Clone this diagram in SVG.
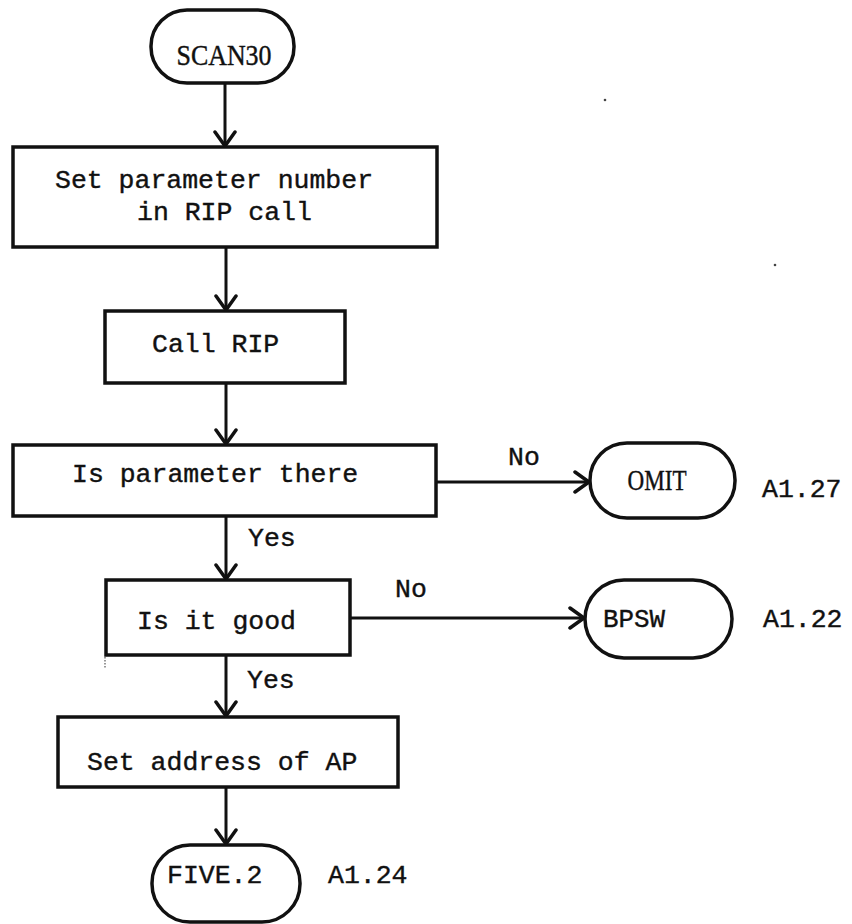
<svg xmlns="http://www.w3.org/2000/svg" width="852" height="924" viewBox="0 0 852 924">
  <defs>
    <marker id="arr" viewBox="-17 -12 19 24" markerWidth="19" markerHeight="24" refX="0" refY="0" orient="auto" markerUnits="userSpaceOnUse">
      <path d="M-14,-10 L0,0 L-14,10" fill="none" stroke="#111" stroke-width="3.5" stroke-linecap="round"/>
    </marker>
    <style>
      .box { fill: #fff; stroke: #111; stroke-width: 3.5; }
      .term { fill: #fff; stroke: #111; stroke-width: 3.5; }
      .edge { fill: none; stroke: #111; stroke-width: 3; marker-end: url(#arr); }
      .tw { font-family: "Liberation Mono", "DejaVu Sans Mono", monospace; font-size: 26.5px; fill: #111; stroke: #111; stroke-width: 0.4; }
      .lt { font-family: "Liberation Serif", "DejaVu Serif", serif; font-size: 29px; fill: #111; stroke: #111; stroke-width: 0.4; }
      .speck { fill: #444; }
    </style>
  </defs>

  <rect width="852" height="924" fill="#fff"/>

  <!-- connectors -->
  <g id="connectors">
    <path class="edge" d="M225,83 L225,146"/>
    <path class="edge" d="M226,247 L226,310"/>
    <path class="edge" d="M226,383 L226,444"/>
    <path class="edge" d="M226,516 L226,579"/>
    <path class="edge" d="M226,655 L226,716"/>
    <path class="edge" d="M226,787 L226,844"/>
    <path class="edge" d="M436,482 L589,482"/>
    <path class="edge" d="M350,618 L584,618"/>
    <text class="tw" x="508" y="465">No</text>
    <text class="tw" x="248" y="546">Yes</text>
    <text class="tw" x="395" y="597">No</text>
    <text class="tw" x="247" y="688">Yes</text>
  </g>

  <!-- start terminal -->
  <g id="scan30">
    <rect class="term" x="151" y="10" width="143" height="73" rx="36" ry="36"/>
    <text class="lt" x="224" y="65" text-anchor="middle" textLength="95" lengthAdjust="spacingAndGlyphs">SCAN30</text>
  </g>

  <g id="set-param">
    <rect class="box" x="13" y="147" width="424" height="100"/>
    <text class="tw" x="55" y="188">Set parameter number</text>
    <text class="tw" x="137" y="220">in RIP call</text>
  </g>

  <g id="call-rip">
    <rect class="box" x="105" y="311" width="240" height="72"/>
    <text class="tw" x="152" y="352">Call RIP</text>
  </g>

  <g id="param-there">
    <rect class="box" x="13" y="445" width="423" height="71"/>
    <text class="tw" x="72" y="482">Is parameter there</text>
  </g>

  <g id="omit">
    <rect class="term" x="590" y="443" width="145" height="75" rx="37" ry="37"/>
    <text class="lt" x="657" y="490" text-anchor="middle" textLength="59" lengthAdjust="spacingAndGlyphs">OMIT</text>
    <text class="tw" x="762" y="497">A1.27</text>
  </g>

  <g id="is-good">
    <rect class="box" x="106" y="580" width="244" height="75"/>
    <text class="tw" x="137" y="629">Is it good</text>
  </g>

  <g id="bpsw">
    <rect class="term" x="585" y="580" width="147" height="78" rx="39" ry="39"/>
    <text class="tw" x="603" y="627" textLength="62" lengthAdjust="spacingAndGlyphs">BPSW</text>
    <text class="tw" x="763" y="627">A1.22</text>
  </g>

  <g id="set-address">
    <rect class="box" x="58" y="717" width="340" height="70"/>
    <text class="tw" x="87" y="770">Set address of AP</text>
  </g>

  <g id="five2">
    <rect class="term" x="152" y="845" width="148" height="77" rx="38" ry="38"/>
    <text class="tw" x="167" y="883">FIVE.2</text>
    <text class="tw" x="328" y="883">A1.24</text>
  </g>

  <!-- stray marks -->
  <circle class="speck" cx="605" cy="100" r="1.3"/>
  <circle class="speck" cx="775" cy="265" r="1.3"/>
  <path d="M105,657 L105,668" stroke="#555" stroke-width="1.2" stroke-dasharray="1.5 1.5"/>
</svg>
